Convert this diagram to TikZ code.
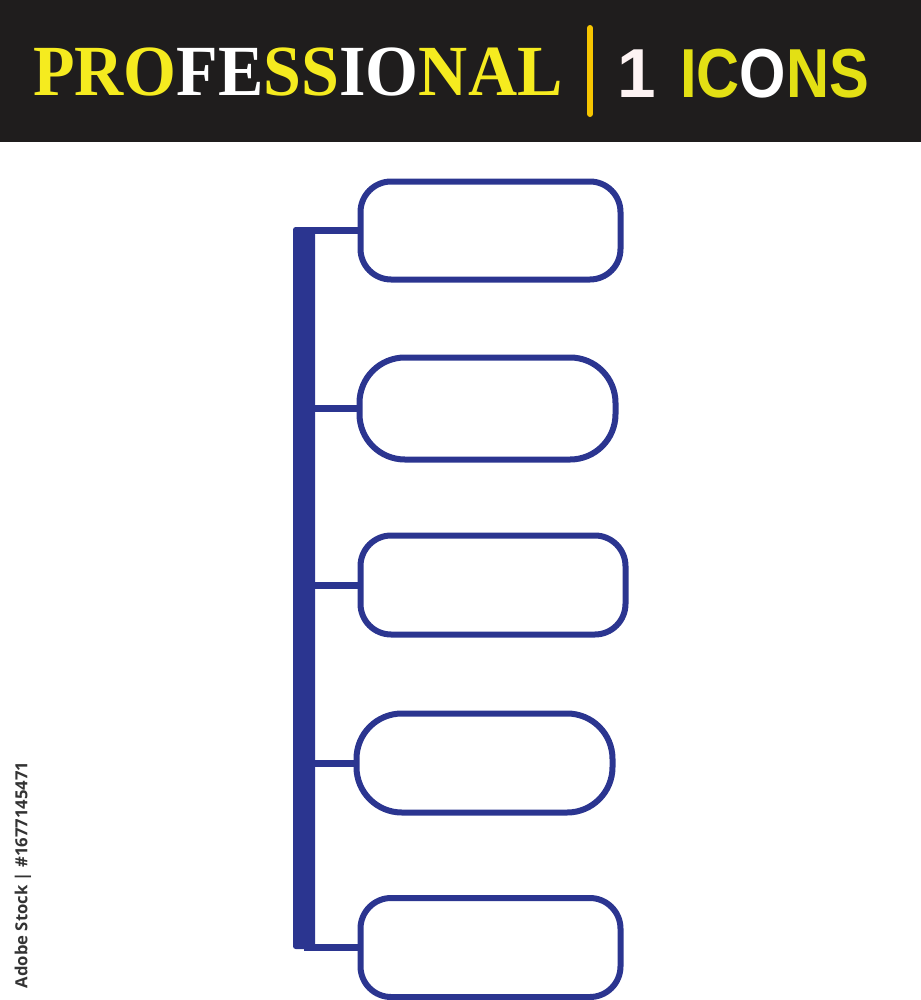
\documentclass[tikz,border=0pt]{standalone}
\usepackage{fontspec}
\usepackage{xcolor}
\usepackage{tikz}
\usetikzlibrary{positioning}

\newfontfamily\titlefont{Liberation Serif}
\newfontfamily\iconfont{Liberation Sans}
\newfontfamily\markfont{Open Sans}

\definecolor{banner}{HTML}{1F1D1D}
\definecolor{proyellow}{HTML}{F5EB1F}
\definecolor{icoyellow}{HTML}{E3E014}
\definecolor{onewhite}{HTML}{FDF3F3}
\definecolor{divider}{HTML}{F6C500}
\definecolor{boxblue}{HTML}{2B3590}
\definecolor{markgray}{HTML}{333333}

\tikzset{
  pill/.style={draw=boxblue, line width=4.5pt, rounded corners=23pt, inner sep=0pt},
  wide pill/.style={pill, rounded corners=34pt},
  stem/.style={fill=boxblue, draw=none, rounded corners=2pt, inner sep=0pt, minimum width=16.5pt},
  link/.style={draw=boxblue, line width=5.25pt}
}

\begin{document}
\begin{tikzpicture}[x=0.75pt,y=0.75pt,yscale=-1,xscale=1]
\useasboundingbox (0,0) rectangle (921,1000);

%Shape: Rectangle [banner]
\fill[banner] (0,0) rectangle (921,142);
%Shape: Line [divider]
\draw[divider, line width=4.5pt, line cap=round] (590,28) -- (590,114);

% Text Node
\node[anchor=base west, inner sep=0pt] (title) at (33,95)
  {\titlefont\bfseries\fontsize{54}{54}\selectfont\scalebox{0.945}[1]{%
   \color{proyellow}PRO\color{white}FE\color{proyellow}SS\color{white}IO\color{proyellow}NAL}};
% Text Node
\node[anchor=base west, inner sep=0pt] (one) at (617,97)
  {\iconfont\bfseries\fontsize{52}{52}\selectfont\color{onewhite}1};
% Text Node
\node[anchor=base west, inner sep=0pt] (icons) at (680,97)
  {\iconfont\bfseries\fontsize{52}{52}\selectfont\scalebox{0.86}[1]{%
   \color{icoyellow}IC\color{white}O\color{icoyellow}NS}};

%Shape: Bar [stem]
\node[stem, minimum height=541.5pt] (bar) at (304,588) {};

%Shape: Rounded Rect [boxes]
\node[pill, minimum width=195pt, minimum height=73.5pt] (b1) at (490.5,230.5) {};
\node[wide pill, minimum width=192pt, minimum height=76.5pt] (b2) at (487.5,408.5) {};
\node[pill, minimum width=198.75pt, minimum height=74.25pt] (b3) at (493,585) {};
\node[wide pill, minimum width=192pt, minimum height=74.25pt] (b4) at (484.5,763) {};
\node[pill, minimum width=195pt, minimum height=74.25pt] (b5) at (490.5,947.5) {};

%Straight Lines [links]
\foreach \b in {b1,b2,b3,b4,b5}
  \draw[link] (bar.center |- \b.west) -- (\b.west);

% Text Node
\node[rotate=90, anchor=center, inner sep=0pt] (stock) at (23,875)
  {\markfont\bfseries\fontsize{12.5}{12.5}\selectfont\color{markgray}Adobe Stock | \#1677145471};
\end{tikzpicture}
\end{document}
